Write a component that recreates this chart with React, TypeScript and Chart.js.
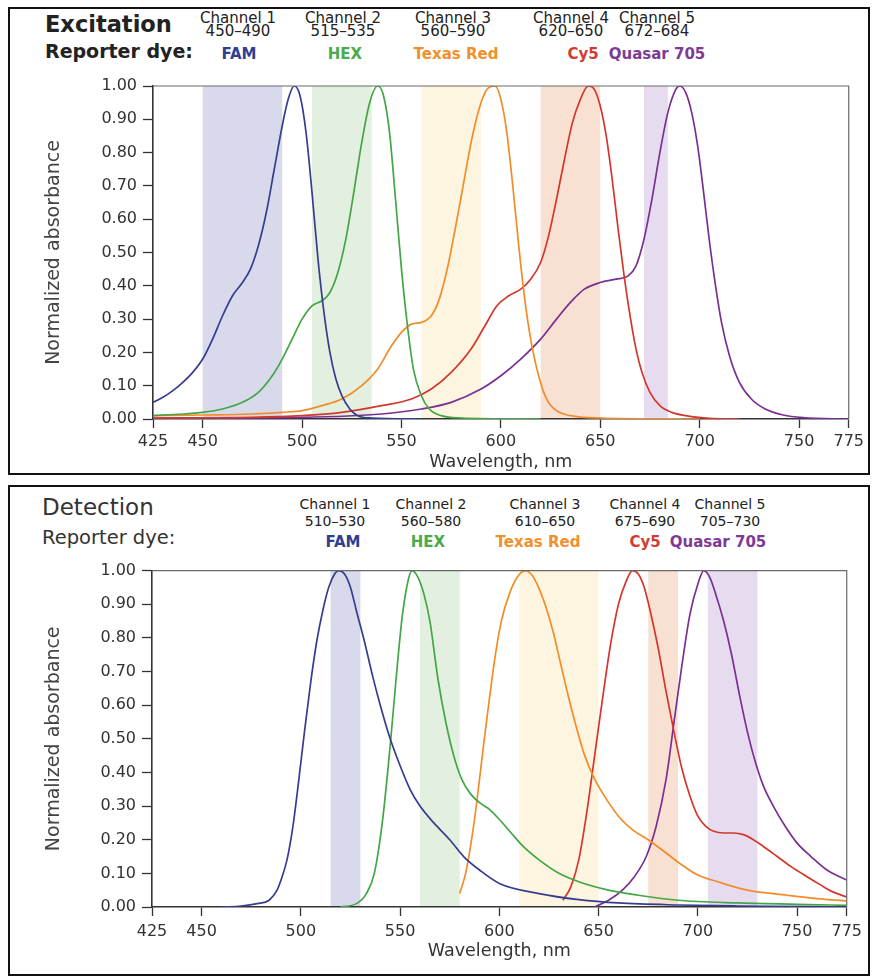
import React, { useEffect, useRef } from "react";
import { Chart, registerables } from "chart.js";
Chart.register(...registerables);

// ---------- data ----------
const X_TICKS = [425, 450, 500, 550, 600, 650, 700, 750, 775];
const Y_TICKS = [0, 0.1, 0.2, 0.3, 0.4, 0.5, 0.6, 0.7, 0.8, 0.9, 1.0];
const DYES = ["FAM", "HEX", "Texas Red", "Cy5", "Quasar 705"];
const CHANNEL_NAMES = ["Channel 1", "Channel 2", "Channel 3", "Channel 4", "Channel 5"];
const EX_RANGES = ["450–490", "515–535", "560–590", "620–650", "672–684"];
const EM_RANGES = ["510–530", "560–580", "610–650", "675–690", "705–730"];
const EX_BAND_START = [450, 505, 560, 620, 672];
const EX_BAND_END = [490, 535, 590, 650, 684];
const EM_BAND_START = [515, 560, 610, 675, 705];
const EM_BAND_END = [530, 580, 650, 690, 730];

// Excitation (absorbance)
const FAM_EX_WL = [425, 430, 435, 440, 445, 450, 455, 460, 465, 470, 474, 478, 482, 486, 490, 493, 496, 499, 502, 505, 508, 511, 514, 517, 520, 524, 528, 535, 560];
const FAM_EX_Y = [0.05, 0.065, 0.085, 0.11, 0.14, 0.18, 0.24, 0.31, 0.37, 0.41, 0.45, 0.52, 0.62, 0.75, 0.88, 0.96, 1.0, 0.97, 0.86, 0.68, 0.48, 0.32, 0.2, 0.12, 0.07, 0.03, 0.01, 0.003, 0];
const HEX_EX_WL = [425, 440, 450, 460, 470, 478, 485, 490, 495, 500, 505, 510, 514, 518, 522, 526, 530, 534, 538, 541, 544, 547, 550, 553, 556, 560, 564, 570, 580, 620];
const HEX_EX_Y = [0.01, 0.015, 0.02, 0.03, 0.05, 0.08, 0.13, 0.18, 0.24, 0.3, 0.34, 0.355, 0.38, 0.44, 0.54, 0.68, 0.83, 0.95, 1.0, 0.97, 0.86, 0.66, 0.45, 0.28, 0.15, 0.07, 0.03, 0.01, 0.003, 0];
const TR_EX_WL = [425, 450, 475, 490, 500, 510, 520, 530, 538, 545, 550, 555, 560, 565, 569, 573, 577, 581, 585, 589, 593, 597, 600, 603, 606, 609, 612, 615, 619, 623, 628, 635, 650, 700];
const TR_EX_Y = [0.01, 0.012, 0.015, 0.02, 0.025, 0.04, 0.06, 0.1, 0.15, 0.22, 0.26, 0.285, 0.29, 0.31, 0.36, 0.45, 0.57, 0.7, 0.83, 0.93, 0.99, 1.0, 0.96, 0.86, 0.7, 0.52, 0.36, 0.24, 0.13, 0.06, 0.025, 0.01, 0.003, 0];
const CY5_EX_WL = [425, 475, 500, 520, 540, 555, 565, 575, 585, 592, 598, 604, 610, 615, 620, 624, 628, 632, 636, 640, 644, 647, 650, 653, 656, 659, 662, 665, 668, 671, 675, 680, 686, 695, 705, 720];
const CY5_EX_Y = [0.003, 0.005, 0.01, 0.02, 0.04, 0.06, 0.09, 0.14, 0.21, 0.28, 0.34, 0.37, 0.39, 0.42, 0.47, 0.55, 0.66, 0.78, 0.89, 0.96, 1.0, 0.99, 0.94, 0.85, 0.72, 0.57, 0.43, 0.31, 0.21, 0.14, 0.08, 0.04, 0.02, 0.008, 0.002, 0];
const Q705_EX_WL = [425, 500, 540, 560, 575, 590, 600, 610, 620, 628, 635, 642, 650, 658, 664, 668, 672, 676, 680, 684, 688, 690, 693, 696, 699, 702, 705, 708, 711, 715, 720, 726, 733, 742, 752, 775];
const Q705_EX_Y = [0.002, 0.005, 0.015, 0.03, 0.05, 0.09, 0.13, 0.18, 0.24, 0.3, 0.35, 0.39, 0.41, 0.42, 0.43, 0.46, 0.54, 0.66, 0.8, 0.92, 0.99, 1.0, 0.98, 0.92, 0.82, 0.68, 0.53, 0.4, 0.29, 0.19, 0.11, 0.06, 0.03, 0.012, 0.004, 0];

// Detection (emission)
const FAM_EM_WL = [460, 470, 478, 484, 488, 490, 493, 496, 499, 502, 505, 508, 511, 514, 517, 519, 522, 525, 528, 532, 536, 540, 545, 550, 555, 560, 567, 575, 582, 590, 600, 620, 640, 660, 690, 720, 775];
const FAM_EM_Y = [0, 0.003, 0.01, 0.02, 0.05, 0.08, 0.14, 0.24, 0.38, 0.53, 0.67, 0.79, 0.88, 0.95, 0.99, 1.0, 0.99, 0.95, 0.88, 0.79, 0.69, 0.6, 0.5, 0.42, 0.35, 0.3, 0.25, 0.2, 0.15, 0.11, 0.07, 0.04, 0.022, 0.012, 0.006, 0.003, 0];
const HEX_EM_WL = [520, 528, 533, 537, 541, 545, 548, 551, 554, 556, 559, 562, 565, 569, 573, 577, 581, 585, 590, 595, 600, 606, 612, 620, 630, 640, 655, 670, 690, 720, 750, 775];
const HEX_EM_Y = [0, 0.01, 0.04, 0.1, 0.25, 0.48, 0.68, 0.86, 0.97, 1.0, 0.98, 0.93, 0.85, 0.68, 0.55, 0.45, 0.38, 0.34, 0.31, 0.29, 0.26, 0.22, 0.18, 0.14, 0.1, 0.075, 0.05, 0.035, 0.02, 0.012, 0.008, 0.005];
const TR_EM_WL = [580, 583, 586, 589, 592, 595, 598, 601, 605, 609, 613, 616, 619, 623, 627, 631, 635, 639, 643, 648, 654, 660, 667, 675, 683, 692, 700, 710, 725, 745, 760, 775];
const TR_EM_Y = [0.04, 0.1, 0.2, 0.33, 0.48, 0.62, 0.75, 0.85, 0.93, 0.98, 1.0, 0.99, 0.96, 0.9, 0.82, 0.72, 0.62, 0.53, 0.45, 0.38, 0.32, 0.27, 0.23, 0.2, 0.165, 0.125, 0.095, 0.075, 0.05, 0.035, 0.025, 0.018];
const CY5_EM_WL = [632, 636, 640, 644, 648, 652, 656, 660, 664, 667, 670, 673, 676, 680, 684, 688, 692, 696, 700, 704, 708, 713, 718, 723, 728, 733, 740, 747, 755, 762, 768, 775];
const CY5_EM_Y = [0.02, 0.06, 0.14, 0.28, 0.45, 0.62, 0.78, 0.9, 0.97, 1.0, 0.99, 0.95, 0.88, 0.77, 0.64, 0.52, 0.41, 0.33, 0.27, 0.24, 0.225, 0.22, 0.22, 0.215, 0.2, 0.18, 0.15, 0.12, 0.09, 0.065, 0.045, 0.03];
const Q705_EM_WL = [648, 655, 662, 668, 674, 679, 684, 688, 692, 696, 700, 703, 706, 709, 713, 717, 721, 725, 729, 733, 738, 744, 750, 757, 765, 775];
const Q705_EM_Y = [0, 0.02, 0.05, 0.09, 0.15, 0.24, 0.38, 0.55, 0.72, 0.87, 0.96, 1.0, 0.98, 0.93, 0.85, 0.75, 0.63, 0.52, 0.43, 0.36, 0.3, 0.24, 0.19, 0.15, 0.11, 0.08];

// ---------- styles ----------
const FONT = "'DejaVu Sans', sans-serif";
const LINE_COLORS = ["#363d91", "#43a646", "#f28c28", "#d5362c", "#7a3092"];
const TEXT_COLORS = ["#2f3e94", "#4caa4c", "#f0902e", "#d23c32", "#7e3a96"];
const BAND_COLORS = ["#d9d9ec", "#e3efdf", "#fdf5e0", "#f8e1d2", "#e7dcef"];

const pts = (wl: number[], v: number[]) => wl.map((x, i) => ({ x, y: v[i] }));

const bandPlugin = {
  id: "bands",
  beforeDraw(chart: any, _args: any, opts: any) {
    const { ctx, chartArea, scales } = chart;
    const x = scales.x;
    ctx.save();
    opts.starts.forEach((s: number, i: number) => {
      const x0 = x.getPixelForValue(s);
      const x1 = x.getPixelForValue(opts.ends[i]);
      ctx.fillStyle = BAND_COLORS[i];
      ctx.fillRect(x0, chartArea.top, x1 - x0, chartArea.bottom - chartArea.top);
    });
    ctx.restore();
  },
  afterDraw(chart: any) {
    const { ctx, chartArea } = chart;
    ctx.save();
    ctx.strokeStyle = "#6a6a6a";
    ctx.lineWidth = 1.2;
    ctx.beginPath();
    ctx.moveTo(chartArea.left, chartArea.top);
    ctx.lineTo(chartArea.right, chartArea.top);
    ctx.lineTo(chartArea.right, chartArea.bottom);
    ctx.stroke();
    ctx.restore();
  },
};

type ChartProps = {
  left: number; top: number; width: number; height: number;
  series: { wl: number[]; v: number[] }[];
  bandStart: number[]; bandEnd: number[];
  yWidth: number; xHeight: number; padTop: number; padRight: number;
  xTickPad: number; xTitlePad: number;
};

function SpectrumChart(p: ChartProps) {
  const ref = useRef<HTMLCanvasElement | null>(null);
  useEffect(() => {
    if (!ref.current) return;
    const chart = new Chart(ref.current, {
      type: "line",
      data: {
        datasets: p.series.map((s, i) => ({
          label: DYES[i],
          data: pts(s.wl, s.v),
          borderColor: LINE_COLORS[i],
          borderWidth: 1.7,
          pointRadius: 0,
          fill: false,
          cubicInterpolationMode: "monotone" as const,
        })),
      },
      options: {
        animation: false,
        responsive: false,
        devicePixelRatio: 1,
        layout: { padding: { top: p.padTop, right: p.padRight, left: 0, bottom: 0 } },
        plugins: {
          legend: { display: false },
          tooltip: { enabled: false },
          bands: { starts: p.bandStart, ends: p.bandEnd },
        } as any,
        scales: {
          x: {
            type: "linear",
            min: 425,
            max: 775,
            afterBuildTicks: (s: any) => { s.ticks = X_TICKS.map((v) => ({ value: v })); },
            afterFit: (s: any) => { s.height = p.xHeight; },
            ticks: { font: { family: FONT, size: 16 }, color: "#333", padding: p.xTickPad, maxRotation: 0, autoSkip: false },
            grid: { drawOnChartArea: false, drawTicks: true, tickLength: 9, tickColor: "#333", tickWidth: 1.3 },
            border: { display: true, color: "#333", width: 1.6 },
            title: { display: true, text: "Wavelength, nm", font: { family: FONT, size: 17.5, lineHeight: 1.2 }, color: "#333", padding: { top: 0, bottom: p.xTitlePad } },
          },
          y: {
            type: "linear",
            min: 0,
            max: 1,
            afterBuildTicks: (s: any) => { s.ticks = Y_TICKS.map((v) => ({ value: v })); },
            afterFit: (s: any) => { s.width = p.yWidth; },
            ticks: { font: { family: FONT, size: 16 }, color: "#333", padding: 6, callback: (v: any) => Number(v).toFixed(2) },
            grid: { drawOnChartArea: false, drawTicks: true, tickLength: 10, tickColor: "#333", tickWidth: 1.3 },
            border: { display: true, color: "#333", width: 1.6 },
            title: { display: true, text: "Normalized absorbance", font: { family: FONT, size: 19, lineHeight: 1.2 }, color: "#444", padding: { top: 33, bottom: 0 } },
          },
        },
      },
      plugins: [bandPlugin],
    } as any);
    return () => chart.destroy();
  }, []);
  return (
    <canvas
      ref={ref}
      width={p.width}
      height={p.height}
      style={{ position: "absolute", left: p.left, top: p.top, width: p.width, height: p.height }}
    />
  );
}

type Txt = { text: string; x: number; capTop: number; size: number; bold?: boolean; color?: string; center?: boolean };
function Label({ t }: { t: Txt }) {
  return (
    <div
      style={{
        position: "absolute",
        left: t.x,
        top: t.capTop - 0.117 * t.size,
        fontSize: t.size,
        lineHeight: 1,
        fontWeight: t.bold ? 700 : 400,
        color: t.color ?? "#222",
        whiteSpace: "nowrap",
        transform: t.center ? "translateX(-50%)" : undefined,
        fontFamily: FONT,
      }}
    >
      {t.text}
    </div>
  );
}

const EX_CH_X = [238, 343, 453, 571, 657];
const EX_DYE_X = [239, 345, 456, 583, 657];
const EM_CH_X = [335, 431, 545, 645, 730];
const EM_DYE_X = [343, 428, 538, 645, 718];

export default function App() {
  const topLabels: Txt[] = [
    { text: "Excitation", x: 45, capTop: 16, size: 22.5, bold: true },
    { text: "Reporter dye:", x: 45, capTop: 44, size: 19, bold: true },
    ...CHANNEL_NAMES.map((c, i) => ({ text: c, x: EX_CH_X[i], capTop: 13, size: 15, center: true })),
    ...EX_RANGES.map((c, i) => ({ text: c, x: EX_CH_X[i], capTop: 25.5, size: 15, center: true })),
    ...DYES.map((c, i) => ({ text: c, x: EX_DYE_X[i], capTop: 48.5, size: 15, bold: true, color: TEXT_COLORS[i], center: true })),
  ];
  const botLabels: Txt[] = [
    { text: "Detection", x: 42, capTop: 499, size: 23, color: "#333" },
    { text: "Reporter dye:", x: 42, capTop: 530, size: 19.5, color: "#333" },
    ...CHANNEL_NAMES.map((c, i) => ({ text: c, x: EM_CH_X[i], capTop: 499, size: 14, center: true })),
    ...EM_RANGES.map((c, i) => ({ text: c, x: EM_CH_X[i], capTop: 516, size: 14, center: true })),
    ...DYES.map((c, i) => ({ text: c, x: EM_DYE_X[i], capTop: 537, size: 15, bold: true, color: TEXT_COLORS[i], center: true })),
  ];
  return (
    <div style={{ position: "absolute", left: 0, top: 0, width: 872, height: 978, background: "#fff", overflow: "hidden", fontFamily: FONT }}>
      <div style={{ position: "absolute", left: 8, top: 7, width: 858, height: 464, border: "2px solid #111" }} />
      <div style={{ position: "absolute", left: 8, top: 485, width: 858, height: 487, border: "2px solid #111" }} />
      {topLabels.map((t, i) => <Label key={"t" + i} t={t} />)}
      {botLabels.map((t, i) => <Label key={"b" + i} t={t} />)}
      <SpectrumChart
        left={10} top={70} width={858} height={404}
        series={[
          { wl: FAM_EX_WL, v: FAM_EX_Y },
          { wl: HEX_EX_WL, v: HEX_EX_Y },
          { wl: TR_EX_WL, v: TR_EX_Y },
          { wl: CY5_EX_WL, v: CY5_EX_Y },
          { wl: Q705_EX_WL, v: Q705_EX_Y },
        ]}
        bandStart={EX_BAND_START} bandEnd={EX_BAND_END}
        yWidth={143} xHeight={55} padTop={16} padRight={16} xTickPad={4} xTitlePad={1.5}
      />
      <SpectrumChart
        left={10} top={555} width={858} height={418}
        series={[
          { wl: FAM_EM_WL, v: FAM_EM_Y },
          { wl: HEX_EM_WL, v: HEX_EM_Y },
          { wl: TR_EM_WL, v: TR_EM_Y },
          { wl: CY5_EM_WL, v: CY5_EM_Y },
          { wl: Q705_EM_WL, v: Q705_EM_Y },
        ]}
        bandStart={EM_BAND_START} bandEnd={EM_BAND_END}
        yWidth={142} xHeight={66} padTop={13} padRight={21} xTickPad={6} xTitlePad={11.5}
      />
    </div>
  );
}
